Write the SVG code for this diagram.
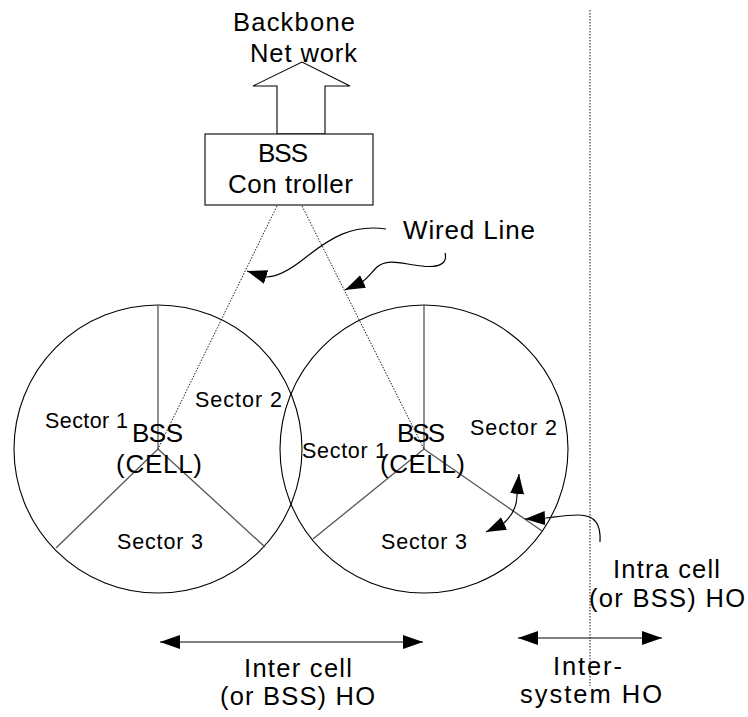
<svg xmlns="http://www.w3.org/2000/svg" width="748" height="717" viewBox="0 0 748 717">
<defs>
<style>
text{font-family:"Liberation Sans",Arial,sans-serif;fill:#000;}
.t24{font-size:25.5px;}
.t21{font-size:21.5px;}
.t25{font-size:26px;}
.shape{fill:#fff;stroke:#000;stroke-width:1.1;}
.rad{stroke:#555;stroke-width:1.3;fill:none;}
.dot{stroke:#000;stroke-width:0.9;stroke-dasharray:1.5,1.5;fill:none;}
.conn{stroke:#000;stroke-width:1.2;fill:none;}
</style>
<marker id="ah" markerUnits="userSpaceOnUse" markerWidth="22" markerHeight="16" refX="20" refY="7" orient="auto-start-reverse" viewBox="0 0 22 16">
<path d="M0,0 L20,7 L0,14 z" fill="#000"/>
</marker>
</defs>
<rect width="748" height="717" fill="#fff"/>

<g id="intersystem-line">
<line class="dot" x1="590" y1="10" x2="590" y2="686"/>
</g>

<g id="backbone">
<polygon class="shape" points="277,134 277,86 253,86 302,62 350,86 325,86 325,134"/>
<text class="t24" x="233" y="31" textLength="122" lengthAdjust="spacing">Backbone</text>
<text class="t24" x="250" y="62" textLength="107" lengthAdjust="spacing">Net work</text>
</g>

<g id="controller">
<rect class="shape" x="205" y="134" width="168" height="71"/>
<text class="t25" x="258" y="162" textLength="50" lengthAdjust="spacing">BSS</text>
<text class="t25" x="228" y="193" textLength="125" lengthAdjust="spacing">Con troller</text>
</g>

<g id="cell-left">
<circle class="shape" cx="158" cy="449" r="144"/>
<line class="rad" x1="158" y1="449" x2="158" y2="305"/>
<line class="rad" x1="158" y1="449" x2="56" y2="548"/>
<line class="rad" x1="158" y1="449" x2="265" y2="547"/>
<text class="t21" x="45" y="428" textLength="83" lengthAdjust="spacing">Sector 1</text>
<text class="t21" x="195" y="407" textLength="87" lengthAdjust="spacing">Sector 2</text>
<text class="t21" x="117" y="549" textLength="86" lengthAdjust="spacing">Sector 3</text>
<text class="t25" x="132" y="442" textLength="51" lengthAdjust="spacing">BSS</text>
<text class="t25" x="116" y="473" textLength="86" lengthAdjust="spacing">(CELL)</text>
</g>

<g id="cell-right">
<circle class="shape" cx="424" cy="449" r="144" style="fill:none"/>
<line class="rad" x1="424" y1="449" x2="424" y2="305"/>
<line class="rad" x1="424" y1="449" x2="313" y2="539"/>
<line class="rad" x1="424" y1="449" x2="542" y2="531"/>
<text class="t21" x="302" y="458" textLength="85" lengthAdjust="spacing">Sector 1</text>
<text class="t21" x="470" y="435" textLength="87" lengthAdjust="spacing">Sector 2</text>
<text class="t21" x="381" y="549" textLength="86" lengthAdjust="spacing">Sector 3</text>
<text class="t25" x="397" y="442" textLength="48" lengthAdjust="spacing">BSS</text>
<text class="t25" x="380" y="473" textLength="85" lengthAdjust="spacing">(CELL)</text>
</g>

<g id="connectors">
<line class="dot" x1="277" y1="206" x2="158" y2="449"/>
<line class="dot" x1="302" y1="206" x2="424" y2="449"/>
<path class="conn" d="M386,229 C352,224 330,238 305,258 C290,270 278,277 266,277 L247,271" marker-end="url(#ah)"/>
<path class="conn" d="M445,253 C448,264 438,268 422,266 C402,264 388,258 377,267 C372,272 368,278 362,282 L345,290" marker-end="url(#ah)"/>
<path class="conn" d="M486,532 L503,524 C512,516 517,506 517,495 L519,474" marker-start="url(#ah)" marker-end="url(#ah)"/>
<path class="conn" d="M600,542 C601,525 596,515 578,515 C565,515 555,517 546,518 L525,519" marker-end="url(#ah)"/>
<line class="conn" x1="160" y1="642" x2="423" y2="642" marker-start="url(#ah)" marker-end="url(#ah)"/>
<line class="conn" x1="518" y1="638" x2="662" y2="638" marker-start="url(#ah)" marker-end="url(#ah)"/>
</g>

<g id="labels">
<text class="t25" x="403" y="239" textLength="132" lengthAdjust="spacing">Wired Line</text>
<text class="t24" x="613" y="578" textLength="107" lengthAdjust="spacing">Intra cell</text>
<text class="t24" x="589" y="607" textLength="156" lengthAdjust="spacing">(or BSS) HO</text>
<text class="t24" x="553" y="675" textLength="69" lengthAdjust="spacing">Inter-</text>
<text class="t24" x="520" y="703" textLength="142" lengthAdjust="spacing">system HO</text>
<text class="t24" x="244" y="677" textLength="108" lengthAdjust="spacing">Inter cell</text>
<text class="t24" x="220" y="705" textLength="155" lengthAdjust="spacing">(or BSS) HO</text>
</g>
</svg>
